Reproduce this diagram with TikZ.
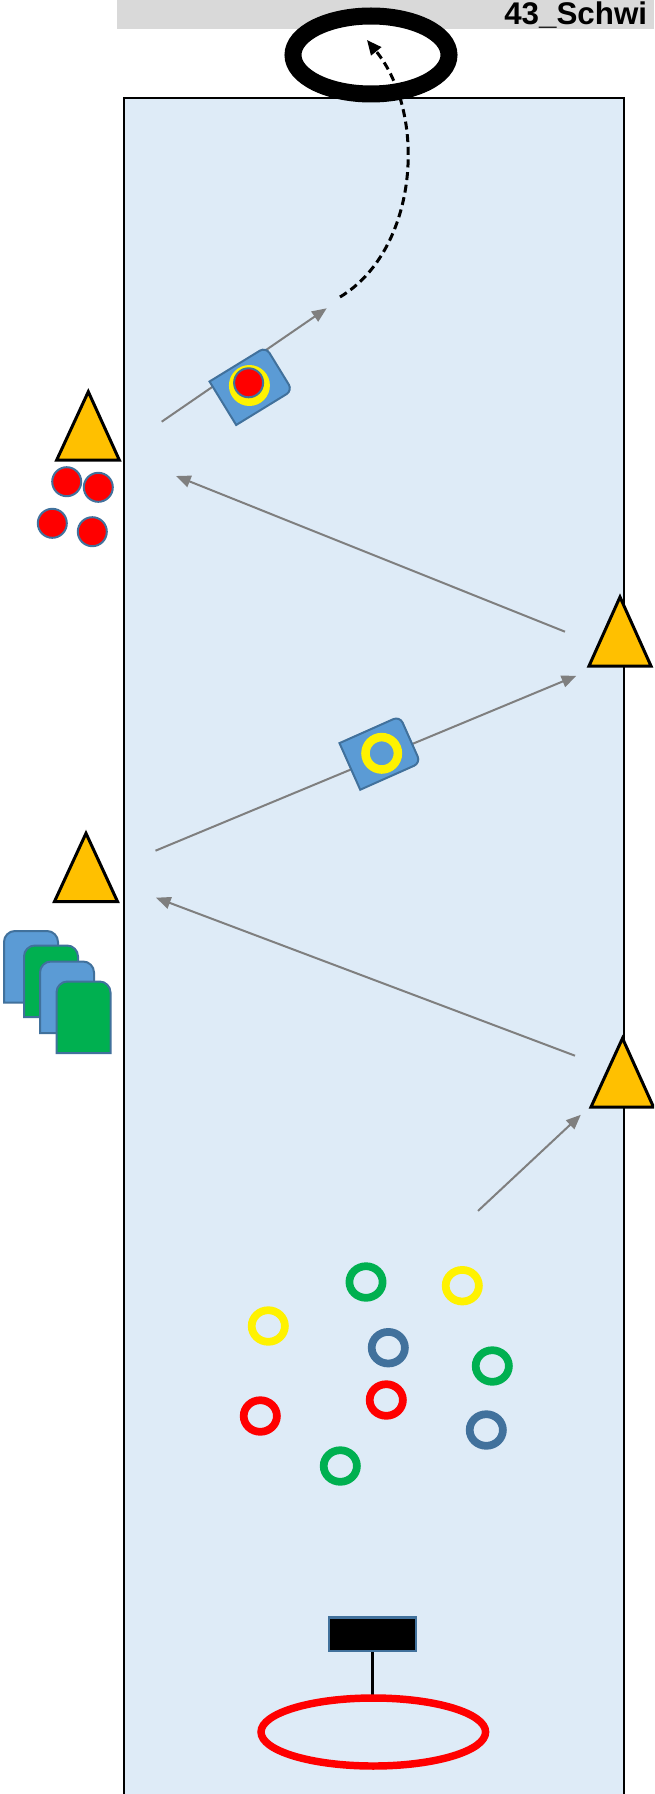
\documentclass[tikz,border=0pt]{standalone}
\usepackage{fontspec}
\setmainfont{Liberation Sans}
\usetikzlibrary{arrows.meta}
\definecolor{fieldblue}{HTML}{DEEBF7}
\definecolor{titlegray}{HTML}{D9D9D9}
\definecolor{conecol}{HTML}{FFC000}
\definecolor{boardblue}{HTML}{5B9BD5}
\definecolor{edgeblue}{HTML}{41719C}
\definecolor{ringgreen}{HTML}{00B050}
\definecolor{arrowgray}{HTML}{7F7F7F}
\begin{document}
\begin{tikzpicture}[x=0.75pt,y=-0.75pt,
  conestyle/.style={fill=conecol, draw=black, line width=2.25pt, line join=miter},
  ballstyle/.style={fill=red, draw=edgeblue, line width=1.5pt},
  boardstyle/.style={fill=boardblue, draw=edgeblue, line width=1.5pt},
  cardblue/.style={fill=boardblue, draw=edgeblue, line width=1.5pt},
  cardgreen/.style={fill=ringgreen, draw=edgeblue, line width=1.5pt},
  move/.style={draw=arrowgray, line width=1.5pt, -{Triangle[length=11pt,width=9pt]}},
  ringstyle/.style={line width=5.8pt},
  card/.pic={\path[pic actions] (0,71.5) -- (0,11) arc[start angle=180,end angle=270,radius=11] -- (43,0) arc[start angle=270,end angle=360,radius=11] -- (54,71.5) -- cycle;},
  board/.pic={\path[pic actions] (-33,-25.5) -- (26,-25.5) arc[start angle=270,end angle=360,radius=7] -- (33,18.5) arc[start angle=0,end angle=90,radius=7] -- (-33,25.5) -- cycle;}
]
\clip (0,0) rectangle (654,1794);
\fill[white] (0,0) rectangle (654,1794);
% title bar
\fill[titlegray] (117,0) rectangle (654,29);
\node[anchor=base west, font=\bfseries\fontsize{23.5}{27}\selectfont, inner sep=0] (title) at (504,25) {43\_Schwi};
% field
\draw[fill=fieldblue, line width=1.5pt] (123.5,98) rectangle (624,1840);
% top hoop
\draw[line width=12.75pt, fill=white] (371,55) ellipse[x radius=78, y radius=39];
% dashed path
\coordinate (dstart) at (340,297);
\coordinate (dend) at (367,40);
\draw[line width=2.25pt, dash pattern=on 6pt off 3.5pt, -{Triangle[length=11pt,width=9.5pt]}] (dstart) .. controls (418,250) and (428,115) .. (dend);
% movement arrows
\coordinate (a1s) at (161.7,421.7); \coordinate (a1e) at (326.7,308.3);
\coordinate (a2s) at (565,631.7);   \coordinate (a2e) at (176,476);
\coordinate (a3s) at (155.5,850.7); \coordinate (a3e) at (576.3,675.8);
\coordinate (a4s) at (575,1055.7);  \coordinate (a4e) at (156,897.7);
\coordinate (a5s) at (478,1210.9);  \coordinate (a5e) at (580.8,1114.8);
\draw[move] (a1s) -- (a1e);
\draw[move] (a2s) -- (a2e);
\draw[move] (a3s) -- (a3e);
\draw[move] (a4s) -- (a4e);
\draw[move] (a5s) -- (a5e);
% boards
\pic[boardstyle, rotate=31.5] (b1) at (251,386) {board};
\fill[yellow] (249.4,385.5) circle[radius=20.5];
\draw[ballstyle] (248.6,382.8) circle[radius=14.5];
\pic[boardstyle, rotate=24] (b2) at (380,753) {board};
\draw[yellow, line width=6.4pt] (381.7,753.3) circle[radius=16.2];
% cones
\draw[conestyle] (88.3,391.7) -- (119.3,460) -- (56.7,460) -- cycle;
\draw[conestyle] (620,597) -- (651,666) -- (589,666) -- cycle;
\draw[conestyle] (622.5,1038.3) -- (653.5,1107) -- (591,1107) -- cycle;
\draw[conestyle] (86,833.3) -- (117.5,901.5) -- (54.5,901.5) -- cycle;
% balls
\draw[ballstyle] (66.7,481.7) circle[radius=14.5];
\draw[ballstyle] (98.3,487.3) circle[radius=14.5];
\draw[ballstyle] (52.3,523.3) circle[radius=14.5];
\draw[ballstyle] (92.3,531.7) circle[radius=14.5];
% cards
\pic[cardblue] (c1) at (4,931) {card};
\pic[cardgreen] (c2) at (24,945.5) {card};
\pic[cardblue] (c3) at (40,961.5) {card};
\pic[cardgreen] (c4) at (56.5,981.5) {card};
% rings
\draw[ringstyle, ringgreen] (366,1282) ellipse[x radius=16.6, y radius=15.8];
\draw[ringstyle, yellow] (462.3,1285.7) ellipse[x radius=16.6, y radius=15.8];
\draw[ringstyle, yellow] (268.3,1326) ellipse[x radius=16.6, y radius=15.8];
\draw[ringstyle, edgeblue] (388.3,1347.7) ellipse[x radius=16.6, y radius=15.8];
\draw[ringstyle, ringgreen] (492.3,1366) ellipse[x radius=16.6, y radius=15.8];
\draw[ringstyle, red] (386.3,1400) ellipse[x radius=16.6, y radius=15.8];
\draw[ringstyle, red] (260.3,1416) ellipse[x radius=16.6, y radius=15.8];
\draw[ringstyle, edgeblue] (486.3,1430) ellipse[x radius=16.6, y radius=15.8];
\draw[ringstyle, ringgreen] (340.3,1466) ellipse[x radius=16.6, y radius=15.8];
% bottom flag and hoop
\node[fill=black, draw=edgeblue, line width=1.8pt, inner sep=0, minimum width=65pt, minimum height=25pt] (flag) at (372.5,1634.3) {};
\coordinate (hooptop) at (372.5,1698);
\draw[line width=2.25pt] (flag.south) -- (hooptop);
\draw[red, line width=5.6pt] (373.3,1732) ellipse[x radius=112.3, y radius=34];
\end{tikzpicture}
\end{document}
